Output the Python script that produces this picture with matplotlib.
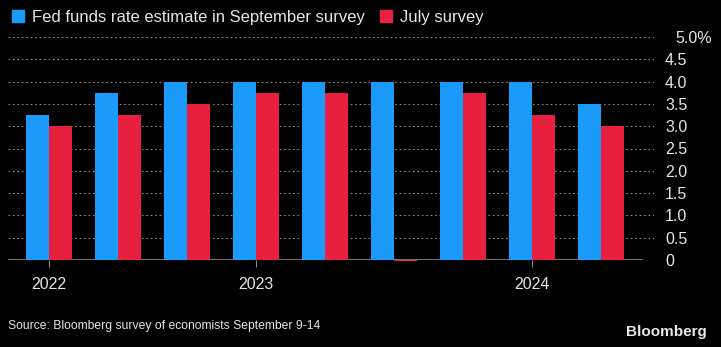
import matplotlib
matplotlib.use("Agg")
import matplotlib.pyplot as plt
import matplotlib.transforms as mtransforms
from matplotlib.patches import Patch
import numpy as np

# Data
september = [3.25, 3.75, 4.0, 4.0, 4.0, 4.0, 4.0, 4.0, 3.5]
july = [3.0, 3.25, 3.5, 3.75, 3.75, -0.03, 3.75, 3.25, 3.0]
year_ticks = [0, 3, 7]
year_labels = ["2022", "2023", "2024"]
y_ticks = [0, 0.5, 1.0, 1.5, 2.0, 2.5, 3.0, 3.5, 4.0, 4.5, 5.0]
y_labels = ["0", "0.5", "1.0", "1.5", "2.0", "2.5", "3.0", "3.5", "4.0", "4.5", "5.0%"]

blue = "#1a9bfc"
red = "#e8203f"
grey = "#8a8a8a"
text_col = "#e6e6e6"

plt.rcParams["font.family"] = ["Liberation Sans", "DejaVu Sans"]

fig = plt.figure(figsize=(7.21, 3.47), dpi=100, facecolor="black")
ax = fig.add_axes([8 / 721, 87 / 347, 646 / 721, 223 / 347], facecolor="black")

x = np.arange(len(september))
w = 1 / 3
ax.bar(x - w / 2, september, width=w, color=blue, zorder=3)
ax.bar(x + w / 2, july, width=w, color=red, zorder=3, clip_on=False)

ax.set_xlim(-0.594, 8.768)
ax.set_ylim(0, 5.0)

# Gridlines
for t in y_ticks:
    ax.axhline(t, color=grey, lw=0.8, ls=(0, (1.5, 2.5)), zorder=1)
ax.axhline(0, xmin=0, xmax=0.981, color=grey, lw=1.2, zorder=2)

for s in ax.spines.values():
    s.set_visible(False)

ax.set_xticks(year_ticks)
ax.set_xticklabels(year_labels)
ax.tick_params(axis="x", length=5, color=grey, colors=text_col, labelsize=11.5, pad=7)

ax.yaxis.tick_right()
ax.set_yticks(y_ticks)
ax.set_yticklabels(y_labels)
ax.tick_params(axis="y", length=0, colors=text_col, labelsize=11.5, pad=8)
lbls = ax.get_yticklabels()
lbls[-1].set_transform(lbls[-1].get_transform() +
                       mtransforms.ScaledTranslation(0.1, 0, fig.dpi_scale_trans))

# Legend
handles = [Patch(color=blue, label="Fed funds rate estimate in September survey"),
           Patch(color=red, label="July survey")]
fig.legend(handles=handles, loc="upper left", bbox_to_anchor=(0.0, 1.005), ncol=2,
           frameon=False, fontsize=12, labelcolor=text_col, handlelength=0.75,
           handleheight=0.75, handletextpad=0.45, columnspacing=0.9, borderaxespad=0.3)

fig.text(8 / 721, 1 - 326 / 347, "Source: Bloomberg survey of economists September 9-14",
         color=text_col, fontsize=8.7, va="center", ha="left")
fig.text(707 / 721, 1 - 332 / 347, "Bloomberg", color=text_col, fontsize=11,
         fontweight="bold", va="center", ha="right")

plt.savefig("out.png", dpi=100, facecolor="black")
